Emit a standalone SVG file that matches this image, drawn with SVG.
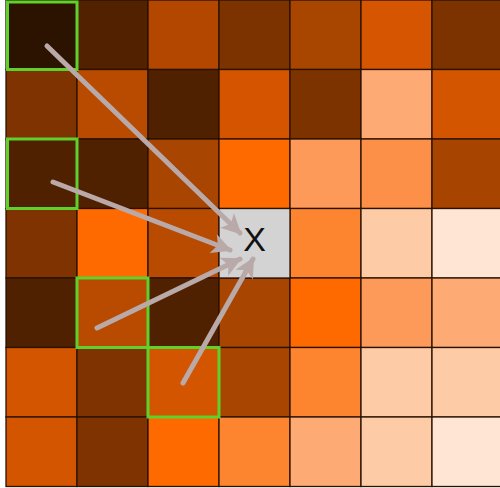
<svg xmlns="http://www.w3.org/2000/svg" width="500" height="488" viewBox="0 0 500 488">
<defs>
<style>
.c{stroke:#2a1200;stroke-width:1.3}
.g{fill:none;stroke:#5fd12c;stroke-width:3}
.a{stroke:#b9a9a9;stroke-width:5;stroke-linecap:round;fill:none;marker-end:url(#ah)}
.x{font-family:"Liberation Sans",Arial,sans-serif;font-size:34px;fill:#111}
</style>
<marker id="ah" viewBox="0 0 10 10" refX="9" refY="5" markerWidth="5" markerHeight="4" orient="auto" markerUnits="strokeWidth">
<path d="M0,0 L10,5 L0,10 L2.5,5 Z" fill="#b9a9a9"/>
</marker>
</defs>
<rect width="500" height="488" fill="#ffffff"/>
<g id="grid">
<rect class="c" x="6" y="0" width="71" height="69.5" fill="#2b1300"/>
<rect class="c" x="77" y="0" width="71" height="69.5" fill="#522200"/>
<rect class="c" x="148" y="0" width="71" height="69.5" fill="#b34700"/>
<rect class="c" x="219" y="0" width="71" height="69.5" fill="#7d3300"/>
<rect class="c" x="290" y="0" width="71" height="69.5" fill="#a84600"/>
<rect class="c" x="361" y="0" width="71" height="69.5" fill="#d65500"/>
<rect class="c" x="432" y="0" width="71" height="69.5" fill="#7d3300"/>

<rect class="c" x="6" y="69.5" width="71" height="69.5" fill="#7e3300"/>
<rect class="c" x="77" y="69.5" width="71" height="69.5" fill="#b84b00"/>
<rect class="c" x="148" y="69.5" width="71" height="69.5" fill="#4f2100"/>
<rect class="c" x="219" y="69.5" width="71" height="69.5" fill="#d45400"/>
<rect class="c" x="290" y="69.5" width="71" height="69.5" fill="#7d3300"/>
<rect class="c" x="361" y="69.5" width="71" height="69.5" fill="#fdaa75"/>
<rect class="c" x="432" y="69.5" width="71" height="69.5" fill="#d45500"/>

<rect class="c" x="6" y="139" width="71" height="69.5" fill="#4f2100"/>
<rect class="c" x="77" y="139" width="71" height="69.5" fill="#4f2100"/>
<rect class="c" x="148" y="139" width="71" height="69.5" fill="#a84500"/>
<rect class="c" x="219" y="139" width="71" height="69.5" fill="#ff6a00"/>
<rect class="c" x="290" y="139" width="71" height="69.5" fill="#fd9a5a"/>
<rect class="c" x="361" y="139" width="71" height="69.5" fill="#fd9049"/>
<rect class="c" x="432" y="139" width="71" height="69.5" fill="#a74400"/>

<rect class="c" x="6" y="208.5" width="71" height="69.5" fill="#7e3300"/>
<rect class="c" x="77" y="208.5" width="71" height="69.5" fill="#ff6a00"/>
<rect class="c" x="148" y="208.5" width="71" height="69.5" fill="#b84b00"/>
<rect class="c" x="290" y="208.5" width="71" height="69.5" fill="#fd8530"/>
<rect class="c" x="361" y="208.5" width="71" height="69.5" fill="#fdcba5"/>
<rect class="c" x="432" y="208.5" width="71" height="69.5" fill="#ffe5d3"/>

<rect class="c" x="6" y="278" width="71" height="69.5" fill="#4f2100"/>
<rect class="c" x="77" y="278" width="71" height="69.5" fill="#b84b00"/>
<rect class="c" x="148" y="278" width="71" height="69.5" fill="#4f2100"/>
<rect class="c" x="219" y="278" width="71" height="69.5" fill="#a84500"/>
<rect class="c" x="290" y="278" width="71" height="69.5" fill="#ff6a00"/>
<rect class="c" x="361" y="278" width="71" height="69.5" fill="#fd9a5a"/>
<rect class="c" x="432" y="278" width="71" height="69.5" fill="#fdaa75"/>

<rect class="c" x="6" y="347.5" width="71" height="69.5" fill="#d45500"/>
<rect class="c" x="77" y="347.5" width="71" height="69.5" fill="#7e3300"/>
<rect class="c" x="148" y="347.5" width="71" height="69.5" fill="#d45500"/>
<rect class="c" x="219" y="347.5" width="71" height="69.5" fill="#a84500"/>
<rect class="c" x="290" y="347.5" width="71" height="69.5" fill="#fd8530"/>
<rect class="c" x="361" y="347.5" width="71" height="69.5" fill="#fdcba5"/>
<rect class="c" x="432" y="347.5" width="71" height="69.5" fill="#fdcba5"/>

<rect class="c" x="6" y="417" width="71" height="69.5" fill="#d45500"/>
<rect class="c" x="77" y="417" width="71" height="69.5" fill="#7e3300"/>
<rect class="c" x="148" y="417" width="71" height="69.5" fill="#ff6a00"/>
<rect class="c" x="219" y="417" width="71" height="69.5" fill="#fd8530"/>
<rect class="c" x="290" y="417" width="71" height="69.5" fill="#fdaa75"/>
<rect class="c" x="361" y="417" width="71" height="69.5" fill="#fdcba5"/>
<rect class="c" x="432" y="417" width="71" height="69.5" fill="#ffe5d3"/>
</g>
<g id="target">
<rect class="c" x="219" y="208.5" width="71" height="69.5" fill="#d3d3d3"/>
<text class="x" x="254.5" y="251" text-anchor="middle">X</text>
</g>
<g id="highlights">
<rect class="g" x="7.5" y="2" width="69.5" height="67.5"/>
<rect class="g" x="7.5" y="139" width="69.5" height="69.5"/>
<rect class="g" x="77" y="278" width="71" height="69.5"/>
<rect class="g" x="148" y="347.5" width="71" height="69.5"/>
</g>
<g id="connectors">
<line class="a" x1="47" y1="46" x2="240" y2="233"/>
<line class="a" x1="53" y1="182" x2="230" y2="250"/>
<line class="a" x1="97" y1="328" x2="240" y2="259"/>
<line class="a" x1="183" y1="383" x2="253" y2="259"/>
</g>
</svg>
